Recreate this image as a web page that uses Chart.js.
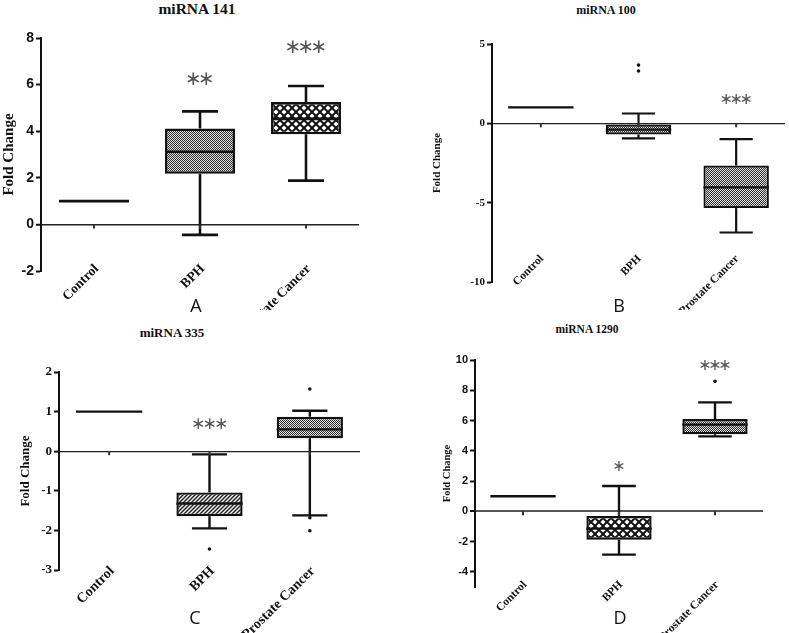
<!DOCTYPE html>
<html>
<head>
<meta charset="utf-8">
<script src="https://cdn.jsdelivr.net/npm/chart.js@4.4.1/dist/chart.umd.min.js"></script>
<style>
  body { margin: 0; background: #fff; width: 789px; height: 633px; position: relative; overflow: hidden; }
  canvas { position: absolute; }
  .ttl { position: absolute; transform: translate(-50%, -50%); font-family: 'Liberation Serif', serif; font-weight: bold; white-space: nowrap; color: #111; }
  .let { position: absolute; transform: translate(-50%, -50%); font-family: 'Open Sans', sans-serif; font-size: 18px; color: #111; }
</style>
</head>
<body>
<div class="ttl" style="left:197px;top:9px;font-size:15.5px">miRNA 141</div>
<div class="ttl" style="left:606px;top:10px;font-size:12px">miRNA 100</div>
<div class="ttl" style="left:172px;top:333px;font-size:13px">miRNA 335</div>
<div class="ttl" style="left:587px;top:329px;font-size:11.5px">miRNA 1290</div>

<canvas id="cA" width="395" height="310" style="left:0;top:0"></canvas>
<canvas id="cB" width="394" height="310" style="left:395px;top:0"></canvas>
<canvas id="cC" width="395" height="323" style="left:0;top:310px"></canvas>
<canvas id="cD" width="394" height="323" style="left:395px;top:310px"></canvas>

<div class="let" style="left:196px;top:305px">A</div>
<div class="let" style="left:619px;top:305px">B</div>
<div class="let" style="left:195px;top:617px">C</div>
<div class="let" style="left:620px;top:617px">D</div>

<script>
const groups = ['Control', 'BPH', 'Prostate Cancer'];

// miRNA 141 (A)
const a141Min = [1, -0.45, 1.88];
const a141Q1  = [1, 2.17, 3.87];
const a141Med = [1, 3.12, 4.53];
const a141Q3  = [1, 4.12, 5.25];
const a141Max = [1, 4.85, 5.94];
const a141OutGroup = [];
const a141OutVal   = [];
const a141Stars = ['', '**', '***'];
const a141StarY = [null, 6.2, 7.6];
const a141Range = [-2, 8];
const a141Step  = 2;

// miRNA 100 (B)
const b100Min = [1, -0.95, -6.88];
const b100Q1  = [1, -0.7, -5.34];
const b100Med = [1, -0.4, -4.03];
const b100Q3  = [1, -0.08, -2.66];
const b100Max = [1, 0.62, -0.99];
const b100OutGroup = ['BPH', 'BPH'];
const b100OutVal   = [3.3, 3.67];
const b100Stars = ['', '', '***'];
const b100StarY = [null, null, 1.5];
const b100Range = [-10, 5];
const b100Step  = 5;

// miRNA 335 (C)
const c335Min = [1, -1.95, -1.62];
const c335Q1  = [1, -1.64, 0.33];
const c335Med = [1, -1.32, 0.55];
const c335Q3  = [1, -1.04, 0.87];
const c335Max = [1, -0.08, 1.02];
const c335OutGroup = ['BPH', 'Prostate Cancer', 'Prostate Cancer', 'Prostate Cancer'];
const c335OutVal   = [-2.47, 1.57, -1.68, -2.01];
const c335Stars = ['', '***', ''];
const c335StarY = [null, 0.68, null];
const c335Range = [-3, 2];
const c335Step  = 1;

// miRNA 1290 (D)
const d1290Min = [1, -2.86, 4.95];
const d1290Q1  = [1, -1.87, 5.09];
const d1290Med = [1, -1.14, 5.73];
const d1290Q3  = [1, -0.31, 6.1];
const d1290Max = [1, 1.67, 7.2];
const d1290OutGroup = ['Prostate Cancer'];
const d1290OutVal   = [8.59];
const d1290Stars = ['', '*', '***'];
const d1290StarY = [null, 2.93, 9.64];
const d1290Range = [-5, 10];
const d1290Step  = 2;

const makePattern = (kind) => {
  const c = document.createElement('canvas');
  const g = c.getContext('2d');
  if (kind === 'dots') {
    c.width = c.height = 2;
    g.fillStyle = '#e6e6e6'; g.fillRect(0, 0, 2, 2);
    g.fillStyle = '#2a2a2a'; g.fillRect(0, 0, 1, 1); g.fillRect(1, 1, 1, 1);
  } else if (kind === 'cross') {
    c.width = c.height = 8;
    g.fillStyle = '#fff'; g.fillRect(0, 0, 8, 8);
    g.strokeStyle = '#111'; g.lineWidth = 2;
    g.beginPath();
    g.moveTo(-1, -1); g.lineTo(9, 9);
    g.moveTo(9, -1); g.lineTo(-1, 9);
    g.stroke();
  } else if (kind === 'stripes') {
    c.width = c.height = 4;
    g.fillStyle = '#eee'; g.fillRect(0, 0, 4, 4);
    g.strokeStyle = '#222'; g.lineWidth = 1.4;
    g.beginPath();
    g.moveTo(-1, 5); g.lineTo(5, -1);
    g.moveTo(-1, 1); g.lineTo(1, -1);
    g.moveTo(3, 5); g.lineTo(5, 3);
    g.stroke();
  }
  return g.createPattern(c, 'repeat');
};

const boxPlugin = {
  id: 'boxplot',
  afterDatasetsDraw(chart, args, o) {
    const { ctx, scales: { x, y } } = chart;
    const bin = x.getPixelForValue(1) - x.getPixelForValue(0);
    const line = (x1, y1, x2, y2) => { ctx.beginPath(); ctx.moveTo(x1, y1); ctx.lineTo(x2, y2); ctx.stroke(); };
    ctx.save();
    ctx.strokeStyle = '#111';
    ctx.lineWidth = o.lw;
    o.med.forEach((m, i) => {
      const cx = x.getPixelForValue(i);
      const half = bin * o.boxFrac / 2;
      const cap = bin * o.capFrac / 2;
      if (o.q1[i] !== o.q3[i]) {
        line(cx, y.getPixelForValue(o.min[i]), cx, y.getPixelForValue(o.q1[i]));
        line(cx, y.getPixelForValue(o.q3[i]), cx, y.getPixelForValue(o.max[i]));
        line(cx - cap, y.getPixelForValue(o.min[i]), cx + cap, y.getPixelForValue(o.min[i]));
        line(cx - cap, y.getPixelForValue(o.max[i]), cx + cap, y.getPixelForValue(o.max[i]));
      }
      const my = y.getPixelForValue(m);
      line(cx - half, my, cx + half, my);
    });
    // small category ticks under the zero line
    const zy = y.getPixelForValue(0);
    ctx.lineWidth = 2;
    ctx.strokeStyle = '#333';
    groups.forEach((g, i) => {
      const cx = x.getPixelForValue(i);
      line(cx, zy, cx, zy + 4);
    });
    // rotated group labels (they sit partly inside the plot, like the original)
    ctx.fillStyle = '#111';
    ctx.font = 'bold ' + o.labelSize + 'px "Liberation Serif"';
    ctx.textAlign = 'right';
    ctx.textBaseline = 'top';
    groups.forEach((g, i) => {
      ctx.save();
      ctx.translate(x.getPixelForValue(i) + o.labelDx, chart.chartArea.bottom + o.labelDy);
      ctx.rotate(-Math.PI / 4);
      ctx.fillText(g, 0, 0);
      ctx.restore();
    });
    // significance stars
    ctx.fillStyle = '#555';
    ctx.font = o.starSize + 'px "DejaVu Sans"';
    ctx.textAlign = 'center';
    ctx.textBaseline = 'middle';
    o.stars.forEach((s, i) => {
      if (!s) return;
      const cx = x.getPixelForValue(i);
      const sy = y.getPixelForValue(o.starY[i]);
      for (let k = 0; k < s.length; k++) {
        ctx.fillText('\u2217', cx + (k - (s.length - 1) / 2) * o.starGap, sy);
      }
    });
    ctx.restore();
  }
};

const makePanel = (id, d, look) => {
  const patterns = look.fills.map(makePattern);
  return new Chart(document.getElementById(id), {
    type: 'bar',
    data: {
      labels: groups,
      datasets: [
        {
          data: groups.map((g, i) => d.q1[i] === d.q3[i] ? null : [d.q1[i], d.q3[i]]),
          backgroundColor: patterns,
          borderColor: '#111',
          borderWidth: look.lw,
          borderSkipped: false,
          barPercentage: look.boxFrac,
          categoryPercentage: 1
        },
        {
          type: 'line',
          data: d.outGroup.map((g, k) => ({ x: g, y: d.outVal[k] })),
          showLine: false,
          pointRadius: 1.8,
          pointBackgroundColor: '#111',
          pointBorderWidth: 0
        }
      ]
    },
    options: {
      responsive: false,
      animation: false,
      events: [],
      layout: { padding: look.pad },
      plugins: {
        legend: { display: false },
        tooltip: { enabled: false },
        boxplot: {
          min: d.min, q1: d.q1, med: d.med, q3: d.q3, max: d.max,
          stars: d.stars, starY: d.starY,
          lw: look.lw, boxFrac: look.boxFrac, capFrac: look.capFrac,
          starSize: look.starSize, starGap: look.starGap,
          labelSize: look.xFont, labelDx: look.xDx, labelDy: look.xDy
        }
      },
      scales: {
        x: {
          offset: true,
          grid: { display: false },
          border: { display: false },
          ticks: { display: false },
          afterFit: (s) => { s.height = look.xH; }
        },
        y: {
          min: d.range[0], max: d.range[1],
          border: { display: true, color: '#111', width: 2 },
          grid: {
            color: (c) => c.tick && c.tick.value === 0 ? look.zeroColor : 'transparent',
            lineWidth: (c) => c.tick && c.tick.value === 0 ? look.zeroW : 1,
            tickColor: '#111', tickLength: 5, tickWidth: 2
          },
          ticks: {
            stepSize: d.step, includeBounds: false, color: '#111', padding: 2,
            font: { family: look.yFamily, weight: 'bold', size: look.yFont }
          },
          title: {
            display: true, text: 'Fold Change', color: '#111', padding: { top: look.tPad, bottom: 0 },
            font: { family: 'Liberation Serif', weight: 'bold', size: look.tFont }
          },
          afterFit: (s) => { s.width = look.yW; }
        }
      }
    },
    plugins: [boxPlugin]
  });
};

makePanel('cA',
  { min: a141Min, q1: a141Q1, med: a141Med, q3: a141Q3, max: a141Max, outGroup: a141OutGroup, outVal: a141OutVal,
    stars: a141Stars, starY: a141StarY, range: a141Range, step: a141Step },
  { fills: ['dots', 'dots', 'cross'], pad: { left: 0, top: 38, right: 36, bottom: 0 }, yW: 41, xH: 39,
    xFont: 13.5, xDx: -2, xDy: -9, yFont: 14, yFamily: 'Liberation Sans', tFont: 15, tPad: 0, lw: 2.6,
    boxFrac: 0.66, capFrac: 0.34, zeroW: 1.5, zeroColor: '#222', starSize: 20, starGap: 13 });

makePanel('cB',
  { min: b100Min, q1: b100Q1, med: b100Med, q3: b100Q3, max: b100Max, outGroup: b100OutGroup, outVal: b100OutVal,
    stars: b100Stars, starY: b100StarY, range: b100Range, step: b100Step },
  { fills: ['dots', 'dots', 'dots'], pad: { left: 34, top: 44, right: 4, bottom: 0 }, yW: 63, xH: 28,
    xFont: 11.5, xDx: -3, xDy: -29, yFont: 11, yFamily: 'Liberation Serif', tFont: 11, tPad: 2, lw: 2.2,
    boxFrac: 0.67, capFrac: 0.34, zeroW: 1.2, zeroColor: '#222', starSize: 16, starGap: 10 });

makePanel('cC',
  { min: c335Min, q1: c335Q1, med: c335Med, q3: c335Q3, max: c335Max, outGroup: c335OutGroup, outVal: c335OutVal,
    stars: c335Stars, starY: c335StarY, range: c335Range, step: c335Step },
  { fills: ['dots', 'stripes', 'dots'], pad: { left: 16, top: 62, right: 35, bottom: 0 }, yW: 43, xH: 63,
    xFont: 14, xDx: -2, xDy: -6, yFont: 13, yFamily: 'Liberation Serif', tFont: 13, tPad: 2, lw: 2.4,
    boxFrac: 0.66, capFrac: 0.35, zeroW: 1.3, zeroColor: '#222', starSize: 17, starGap: 11.5 });

makePanel('cD',
  { min: d1290Min, q1: d1290Q1, med: d1290Med, q3: d1290Q3, max: d1290Max, outGroup: d1290OutGroup, outVal: d1290OutVal,
    stars: d1290Stars, starY: d1290StarY, range: d1290Range, step: d1290Step },
  { fills: ['dots', 'cross', 'dots'], pad: { left: 44, top: 50, right: 26, bottom: 0 }, yW: 36, xH: 46,
    xFont: 11.5, xDx: -2, xDy: -8, yFont: 11, yFamily: 'Liberation Sans', tFont: 10.5, tPad: 2, lw: 2.4,
    boxFrac: 0.68, capFrac: 0.35, zeroW: 2, zeroColor: '#555', starSize: 16, starGap: 10 });
</script>
</body>
</html>
